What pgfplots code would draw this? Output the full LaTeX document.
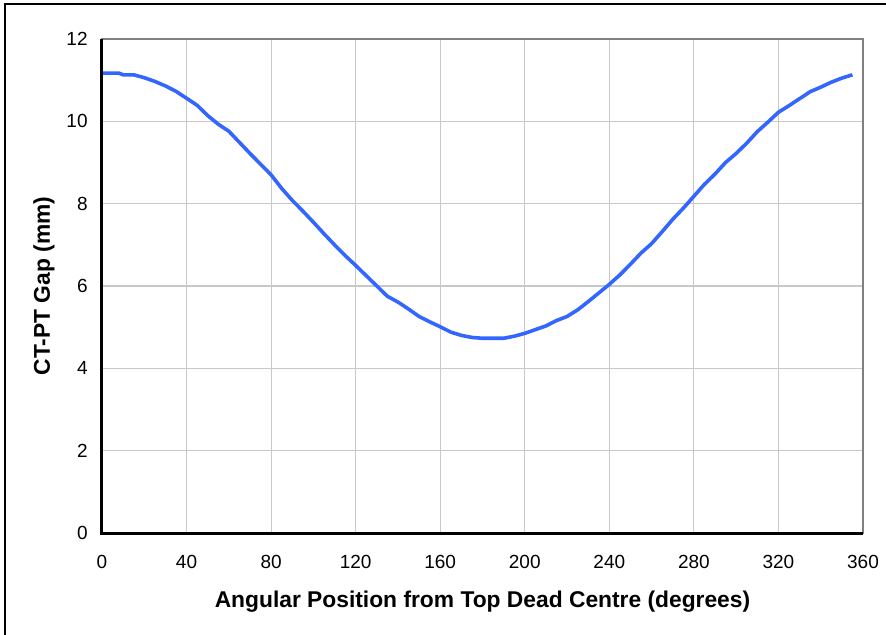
\documentclass[border=0pt]{standalone}
\usepackage{fontspec}
\setmainfont{Liberation Sans}
\usepackage{pgfplots}
\pgfplotsset{compat=1.18}
\definecolor{curveblue}{RGB}{51,102,255}
\definecolor{gridgray}{RGB}{200,200,200}
\definecolor{boxgray}{RGB}{128,128,128}
\begin{document}
\begin{tikzpicture}
\path[use as bounding box] (-51bp,-51bp) rectangle (392bp,266.5bp);
\draw[black, line width=1bp] (-48.5bp,-52bp) -- (-48.5bp,264.5bp) -- (393bp,264.5bp);
\begin{axis}[
  at={(0,0)}, anchor=south west,
  scale only axis,
  width=380.5bp, height=247bp,
  xmin=0, xmax=360, ymin=0, ymax=12,
  xtick={0,40,...,360}, ytick={0,2,...,12},
  major tick length=0pt,
  grid=major,
  major grid style={gridgray, line width=0.6bp},
  axis line style={boxgray, line width=0.8bp},
  /pgf/number format/assume math mode=true,
  ticklabel style={font=\fontsize{9.5bp}{11bp}\selectfont},
  xticklabel style={anchor=base, inner sep=0pt, yshift=-17.7bp},
  yticklabel style={anchor=east, inner sep=0pt, xshift=-7bp},
  xlabel={Angular Position from Top Dead Centre (degrees)},
  ylabel={CT-PT Gap (mm)},
  label style={font=\bfseries\fontsize{11.4bp}{13bp}\selectfont},
  xlabel style={at={(axis description cs:0.5,0)}, anchor=base, inner sep=0pt, yshift=-37.3bp},
  ylabel style={at={(axis description cs:0,0.5)}, anchor=base, inner sep=0pt, yshift=26bp},
  clip=false,
]
\addplot[curveblue, line width=1.8bp, line join=round] coordinates {
(0,11.17) (5,11.17) (8,11.17) (10,11.13) (15,11.13) (20,11.06) (25,10.97)
(30,10.86) (35,10.73) (40,10.56) (45,10.39) (50,10.14) (55,9.93) (60,9.76)
(65,9.49) (70,9.22) (75,8.96) (80,8.70) (85,8.37) (90,8.08) (95,7.82)
(100,7.55) (105,7.27) (110,7.00) (115,6.74) (120,6.50) (125,6.25) (130,6.00)
(135,5.75) (140,5.61) (145,5.44) (150,5.26) (155,5.13) (160,5.01) (165,4.88)
(170,4.80) (175,4.75) (180,4.73) (185,4.73) (190,4.73) (195,4.78) (200,4.85)
(205,4.94) (210,5.03) (215,5.16) (220,5.26) (225,5.42) (230,5.62) (235,5.83)
(240,6.04) (245,6.27) (250,6.53) (255,6.80) (260,7.03) (265,7.32) (270,7.62)
(275,7.89) (280,8.18) (285,8.47) (290,8.72) (295,9.00) (300,9.22) (305,9.47)
(310,9.75) (315,9.98) (320,10.22) (325,10.38) (330,10.55) (335,10.72)
(340,10.83) (345,10.95) (350,11.05) (355,11.13)
};
\draw[black, line width=1.5bp] (axis cs:0,12) -- (axis cs:0,0) -- (axis cs:360,0);
\end{axis}
\end{tikzpicture}
\end{document}
